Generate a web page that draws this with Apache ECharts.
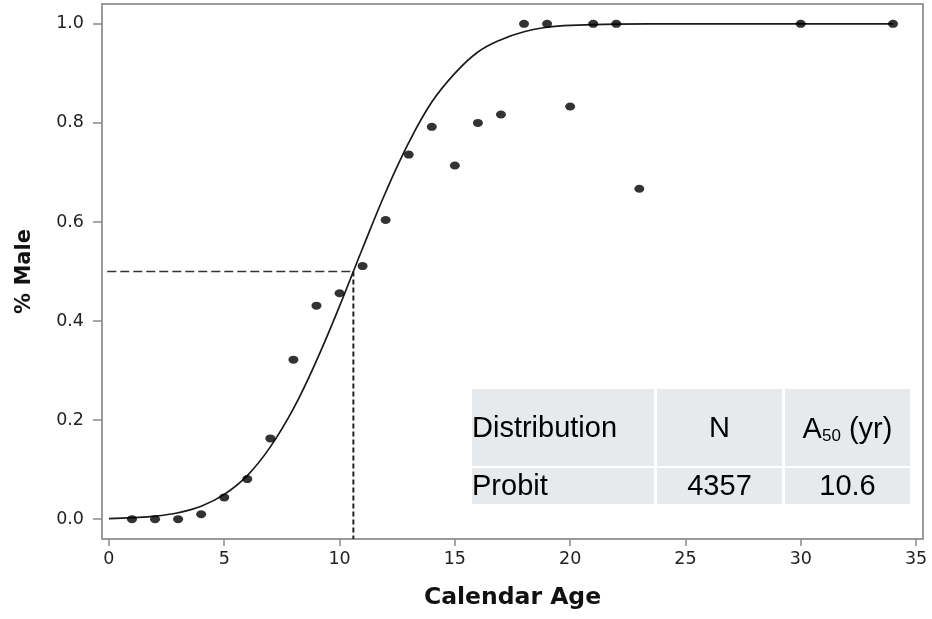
<!DOCTYPE html>
<html>
<head>
<meta charset="utf-8">
<script src="https://cdn.jsdelivr.net/npm/echarts@6/dist/echarts.min.js"></script>
<style>html,body{margin:0;padding:0;background:#fff}#c{width:932px;height:619px}</style>
</head>
<body>
<div id="c"></div>
<script>
// Observed proportion male by calendar age
const ages = [1,2,3,4,5,6,7,8,9,10,11,12,13,14,15,16,17,18,19,20,21,22,23,30,34];
const pctMale = [0,0,0,0.01,0.044,0.081,0.163,0.322,0.431,0.456,0.511,0.604,0.736,0.792,0.714,0.80,0.817,1,1,0.833,1,1,0.667,1,1];
// Fitted probit curve
const fitAge = [0,1,2,3,4,5,6,7,8,9,10,11,12,13,14,15,16,17,18,19,20,22,25,34];
const fitValue = [0.001,0.003,0.006,0.013,0.026,0.05,0.088,0.146,0.223,0.32,0.43,0.547,0.66,0.76,0.842,0.9,0.943,0.968,0.984,0.993,0.997,0.9995,1,1];
const a50 = 10.6;
const xTicks = [0,5,10,15,20,25,30,35];
const yTicks = [0,0.2,0.4,0.6,0.8,1.0];
const tableHeader = ['Distribution','N','A50 (yr)'];
const tableRow = ['Probit','4357','10.6'];

const chart = echarts.init(document.getElementById('c'), null, {renderer:'canvas'});
const axisFont = 'DejaVu Sans';
const tblFont = '"Liberation Sans", Arial, sans-serif';
const cellFill = '#e6eaec';
const cols = [[472,182],[657,125],[785,125]];
const rows = [[389,77],[468,36]];
const graphics = [];
cols.forEach(c => rows.forEach(r => {
  graphics.push({type:'rect', shape:{x:c[0], y:r[0], width:c[1], height:r[1]}, style:{fill:cellFill}, z:10});
}));
function cellText(txt, ci, ri, alignLeft){
  const c = cols[ci], r = rows[ri];
  return {type:'text', z:11, x: alignLeft ? c[0] : c[0]+c[1]/2, y: r[0]+r[1]/2 + 1,
    style:{text:txt, font:'29px ' + tblFont, fill:'#000', align: alignLeft?'left':'center', verticalAlign:'middle'}};
}
graphics.push(cellText(tableHeader[0],0,0,true));
graphics.push(cellText(tableHeader[1],1,0,false));
graphics.push({type:'text', z:11, x: cols[2][0]+cols[2][1]/2, y: rows[0][0]+rows[0][1]/2+1,
  style:{text:'{a|' + tableHeader[2].slice(0,1) + '}{s|' + tableHeader[2].slice(1,3) + '}{a|' + tableHeader[2].slice(3) + '}',
    align:'center', verticalAlign:'middle',
    rich:{a:{font:'29px ' + tblFont, fill:'#000', verticalAlign:'bottom', lineHeight:32},
          s:{font:'17px ' + tblFont, fill:'#000', verticalAlign:'bottom', lineHeight:28}}}});
graphics.push(cellText(tableRow[0],0,1,true));
graphics.push(cellText(tableRow[1],1,1,false));
graphics.push(cellText(tableRow[2],2,1,false));

chart.setOption({
  animation:false,
  backgroundColor:'#fff',
  grid:{left:102, right:9, top:4, bottom:80, show:true, borderColor:'#9a9a9a', borderWidth:2, backgroundColor:'transparent'},
  xAxis:{type:'value', min:-0.3, max:35.3, position:'bottom',
    name:'Calendar Age', nameLocation:'middle', nameGap:47,
    nameTextStyle:{fontFamily:axisFont, fontWeight:'bold', fontSize:23.5, color:'#111'},
    axisLine:{show:false, onZero:false},
    splitLine:{show:false},
    axisTick:{show:true, inside:false, customValues:xTicks, length:7, lineStyle:{color:'#8a8a8a', width:1.5}},
    axisLabel:{customValues:xTicks, fontFamily:axisFont, fontSize:17.5, color:'#222', margin:11}},
  yAxis:{type:'value', min:-0.04, max:1.04, position:'left',
    name:'% Male', nameLocation:'middle', nameGap:67, nameRotate:90,
    nameTextStyle:{fontFamily:axisFont, fontWeight:'bold', fontSize:21, color:'#111'},
    axisLine:{show:false, onZero:false},
    splitLine:{show:false},
    axisTick:{show:true, inside:false, customValues:yTicks, length:9, lineStyle:{color:'#8a8a8a', width:1.5}},
    axisLabel:{customValues:yTicks, fontFamily:axisFont, fontSize:17.5, color:'#222', margin:18,
      formatter:v => Number(v).toFixed(1)}},
  series:[
    {type:'line', name:'Probit fit', data:fitAge.map((x,i)=>[x,fitValue[i]]), smooth:0.4,
      showSymbol:false, lineStyle:{color:'#1a1a1a', width:1.7}, z:3},
    {type:'line', name:'A50 h', data:[[-0.07,0.5],[a50,0.5]], showSymbol:false,
      lineStyle:{color:'#333', width:1.5, type:[9,4]}, z:2},
    {type:'line', name:'A50 v', data:[[a50,0.5],[a50,-0.04]], showSymbol:false,
      lineStyle:{color:'#222', width:2, type:[5,3]}, z:2},
    {type:'scatter', name:'Observed', data:ages.map((x,i)=>[x,pctMale[i]]), symbol:'circle', symbolSize:[10,8],
      itemStyle:{color:'#000'}, z:4}
  ],
  graphic:graphics
});
</script>
</body>
</html>
